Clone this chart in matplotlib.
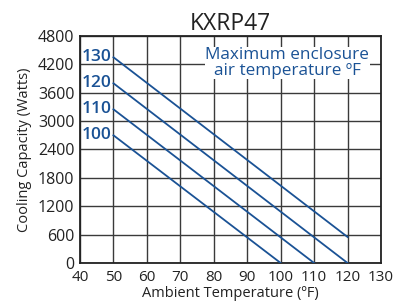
import matplotlib
matplotlib.use("Agg")
import matplotlib.pyplot as plt

plt.rcParams['font.family'] = ['Open Sans', 'DejaVu Sans']

# enclosure temperature curves (deg F): ambient temp -> cooling capacity (W)
enclosure_temps = [100, 110, 120, 130]
ambient = {
    100: [50, 100],
    110: [50, 110],
    120: [50, 120],
    130: [50, 120],
}
capacity = {
    100: [2700, 0],
    110: [3250, 0],
    120: [3800, 0],
    130: [4350, 550],
}
x_ticks = list(range(40, 131, 10))
y_ticks = list(range(0, 4801, 600))

blue = '#1a5295'
grid_col = '#3a3a3a'

fig = plt.figure(figsize=(3.93, 3.06), dpi=100)
ax = fig.add_axes([0.2036, 0.1405, 0.7659, 0.7419])

for t in enclosure_temps:
    ax.plot(ambient[t], capacity[t], color=blue, lw=1.3, zorder=3)
    ax.text(40.5, capacity[t][0], str(t), color=blue, fontsize=12.5,
            fontweight='semibold', va='center', ha='left', zorder=4)

ax.text(102, 4230, 'Maximum enclosure\nair temperature ºF', color=blue,
        fontsize=12.3, ha='center', va='center', linespacing=0.95, zorder=4,
        bbox=dict(facecolor='white', edgecolor='none', pad=0.5))

ax.set_xlim(40, 130)
ax.set_ylim(0, 4800)
ax.set_xticks(x_ticks)
ax.set_yticks(y_ticks)
ax.grid(True, color=grid_col, lw=1.0)
ax.set_axisbelow(True)
for s in ax.spines.values():
    s.set_color('#222222')
    s.set_linewidth(1.3)
ax.tick_params(length=0, labelsize=11.5, colors='#222222')
ax.tick_params(axis='x', pad=5, labelsize=11)
ax.tick_params(axis='y', pad=4)

ax.set_title('KXRP47', fontsize=16.5, color='#222222', pad=3)
ax.set_xlabel('Ambient Temperature (ºF)', fontsize=10.5, color='#222222', labelpad=1)
ax.set_ylabel('Cooling Capacity (Watts)', fontsize=10.5, color='#222222', labelpad=4)

fig.savefig('out.png', dpi=100)
